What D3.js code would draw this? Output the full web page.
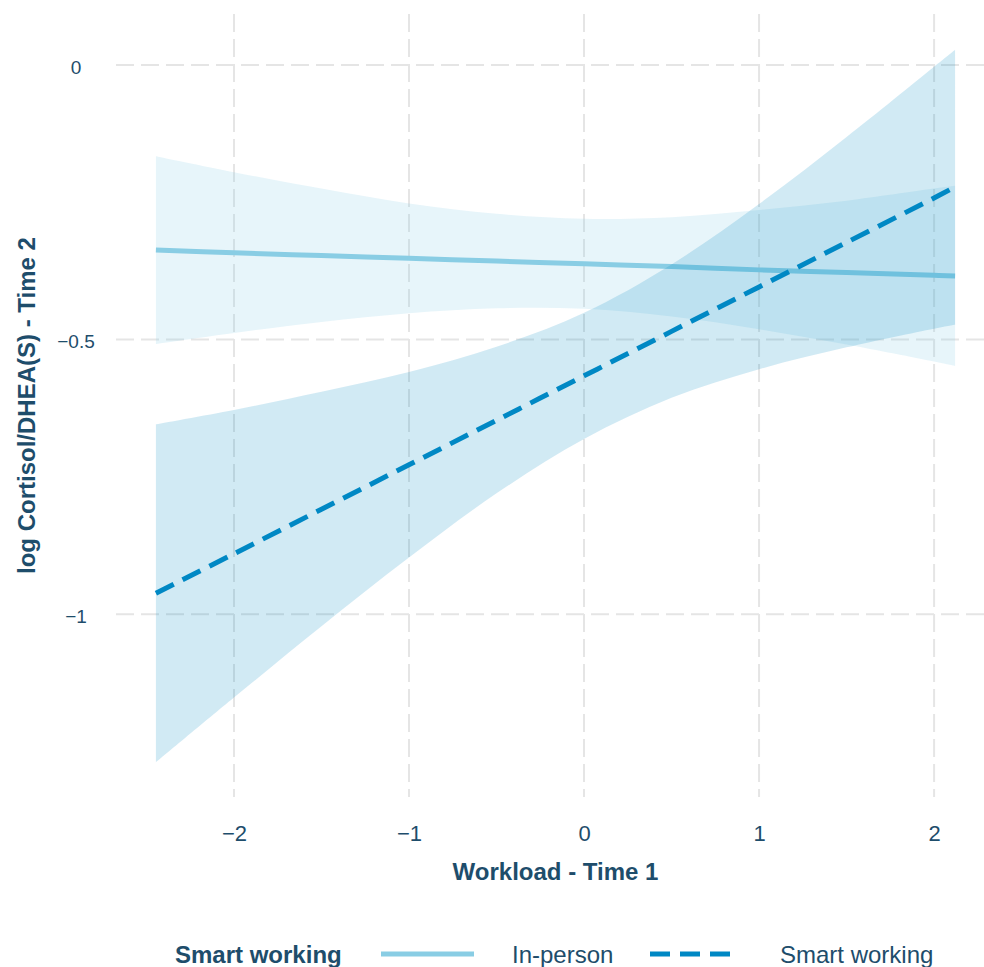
<!DOCTYPE html>
<html>
<head>
<meta charset="utf-8">
<script src="https://cdn.jsdelivr.net/npm/d3@7"></script>
<style>
  html, body { margin: 0; padding: 0; background: #ffffff; }
  svg { display: block; font-family: "Liberation Sans", Arial, sans-serif; }
</style>
</head>
<body>
<svg id="chart" width="984" height="967"></svg>
<script>
// ---- Data ----
const workload = [-2.446, -2, -1.5, -1, -0.5, 0, 0.5, 1, 1.5, 2, 2.12];

const inPersonFit   = [-0.337, -0.342, -0.347, -0.352, -0.357, -0.362, -0.367, -0.373, -0.378, -0.383, -0.384];
const inPersonUpper = [-0.166, -0.195, -0.225, -0.252, -0.271, -0.280, -0.277, -0.264, -0.247, -0.225, -0.220];
const inPersonLower = [-0.508, -0.488, -0.468, -0.452, -0.443, -0.444, -0.458, -0.481, -0.509, -0.540, -0.548];

const smartFit   = [-0.962, -0.890, -0.809, -0.728, -0.647, -0.566, -0.485, -0.404, -0.323, -0.242, -0.222];
const smartUpper = [-0.654, -0.628, -0.595, -0.559, -0.513, -0.451, -0.363, -0.253, -0.131, -0.003, 0.028];
const smartLower = [-1.270, -1.152, -1.022, -0.897, -0.780, -0.681, -0.606, -0.554, -0.514, -0.480, -0.473];

const xTicks = [-2, -1, 0, 1, 2];
const yTicks = [0, -0.5, -1];
const seriesNames = ["In-person", "Smart working"];
const legendTitle = "Smart working";
const xTitle = "Workload - Time 1";
const yTitle = "log Cortisol/DHEA(S) - Time 2";

// ---- Layout ----
const svg = d3.select("#chart");
const panel = { left: 116, right: 995, top: 14, bottom: 797 };
const textColor = "#1e4d6b";
const colInPerson = "#89cde4";
const colSmart = "#0088c4";

const xDomain = [-2.674, 2.348];
const yDomain = [-1.333, 0.093];
const x = d3.scaleLinear().domain(xDomain).range([panel.left, panel.right]);
const y = d3.scaleLinear().domain(yDomain).range([panel.bottom, panel.top]);

// ---- Grid ----
const grid = svg.append("g");
grid.selectAll("line.h").data(yTicks).join("line")
  .attr("x1", panel.left).attr("x2", panel.right)
  .attr("y1", d => y(d)).attr("y2", d => y(d))
  .attr("stroke", "#e5e5e5").attr("stroke-width", 2)
  .attr("stroke-dasharray", "18,7");
grid.selectAll("line.v").data(xTicks).join("line")
  .attr("x1", d => x(d)).attr("x2", d => x(d))
  .attr("y1", panel.top).attr("y2", panel.bottom)
  .attr("stroke", "#e5e5e5").attr("stroke-width", 2)
  .attr("stroke-dasharray", "18,7");

// ---- Bands & lines ----
const curve = d3.curveCatmullRom;
const area = (lo, hi) => d3.area().curve(curve)
  .x((d, i) => x(workload[i])).y0((d, i) => y(lo[i])).y1((d, i) => y(hi[i]));
const line = d3.line().curve(curve).x((d, i) => x(workload[i])).y(d => y(d));

svg.append("path").datum(workload).attr("d", area(inPersonLower, inPersonUpper))
  .attr("fill", colInPerson).attr("fill-opacity", 0.2);
svg.append("path").datum(inPersonFit).attr("d", line)
  .attr("fill", "none").attr("stroke", colInPerson).attr("stroke-width", 5);

svg.append("path").datum(workload).attr("d", area(smartLower, smartUpper))
  .attr("fill", colSmart).attr("fill-opacity", 0.18);
svg.append("path").datum(smartFit).attr("d", line)
  .attr("fill", "none").attr("stroke", colSmart).attr("stroke-width", 5)
  .attr("stroke-dasharray", "20,10");

// ---- Axes (labels only) ----
const fmt = d => d3.format("")(d).replace("-", "\u2212");
const xAxis = d3.axisBottom(x).tickValues(xTicks).tickSize(0).tickPadding(0).tickFormat(fmt);
const gx = svg.append("g").attr("transform", `translate(0, 825)`).call(xAxis);
gx.select(".domain").remove();
gx.selectAll("text").attr("fill", textColor).attr("font-size", 22)
  .attr("font-family", "Liberation Sans, Arial, sans-serif");

const yAxis = d3.axisLeft(y).tickValues(yTicks).tickSize(0).tickPadding(0).tickFormat(fmt);
const gy = svg.append("g").attr("transform", `translate(76, 2)`).call(yAxis);
gy.select(".domain").remove();
gy.selectAll("text").attr("fill", textColor).attr("font-size", 19)
  .attr("text-anchor", "middle")
  .attr("font-family", "Liberation Sans, Arial, sans-serif");

// ---- Axis titles ----
svg.append("text").attr("x", (panel.left + panel.right) / 2).attr("y", 880)
  .attr("text-anchor", "middle").attr("font-weight", "bold").attr("font-size", 24)
  .attr("fill", textColor).text(xTitle);
svg.append("text")
  .attr("transform", `translate(35, ${(panel.top + panel.bottom) / 2}) rotate(-90)`)
  .attr("text-anchor", "middle").attr("font-weight", "bold").attr("font-size", 24)
  .attr("fill", textColor).text(yTitle);

// ---- Legend ----
const lg = svg.append("g");
lg.append("text").attr("x", 175).attr("y", 963).attr("font-weight", "bold")
  .attr("font-size", 24).attr("fill", textColor).text(legendTitle);
lg.append("line").attr("x1", 381).attr("x2", 474).attr("y1", 954).attr("y2", 954)
  .attr("stroke", colInPerson).attr("stroke-width", 5);
lg.append("text").attr("x", 512).attr("y", 963).attr("font-size", 24)
  .attr("fill", textColor).text(seriesNames[0]);
lg.append("line").attr("x1", 650).attr("x2", 732).attr("y1", 954).attr("y2", 954)
  .attr("stroke", colSmart).attr("stroke-width", 5).attr("stroke-dasharray", "20,10");
lg.append("text").attr("x", 780).attr("y", 963).attr("font-size", 24)
  .attr("fill", textColor).text(seriesNames[1]);
</script>
</body>
</html>
